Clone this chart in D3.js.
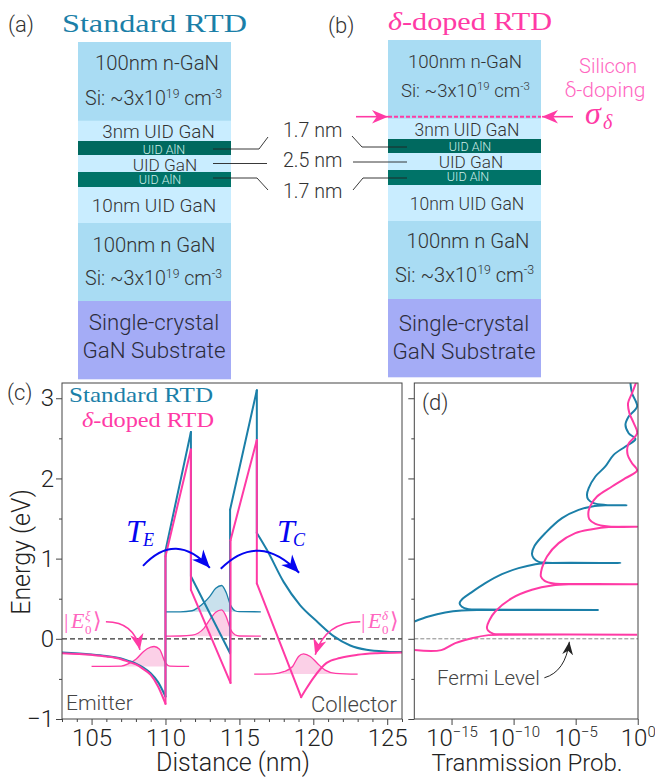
<!DOCTYPE html>
<html>
<head>
<meta charset="utf-8">
<style>
  body { margin: 0; background: #fff; }
  text { font-family: "Roboto", "Liberation Sans", sans-serif; font-weight: 300; fill: #333; }
  .cm { font-family: "Liberation Serif", serif; font-weight: 400; }
  .axis text { font-size: 24px; fill: #222; }
  .axis path, .axis line { stroke: #444; stroke-width: 1; }
</style>
<script src="https://cdn.jsdelivr.net/npm/d3@7"></script>
</head>
<body>
<div id="viz"></div>
<script>
const blue = "#1b7fa8", pink = "#ff3aa5", lightPink = "#ff66bf";

// layer stack, top to bottom (heights in px of the schematic)
const layerNames = ["n", "uid", "aln", "uid", "aln", "uid", "n", "sub"];
const layerHeights = [78.7, 20.3, 14, 17, 15, 36, 78, 78];
const layerColors = {n: "#a9dcf3", uid: "#c9edff", aln: "#00695f", sub: "#a4acf6"};

// panel (c): band edges, distance in nm and energy in eV
// a repeated distance starts a new smooth run of the curve
const stdBandNm = [103, 105, 106, 107, 107.5, 108, 108.5, 109, 109.5, 110, 110, 111.72, 111.72, 114.37, 114.37, 116.18, 116.18, 116.86, 117.99, 119.1, 120.25, 121.4, 122.5, 123.6, 125, 126];
const stdBandE = [-0.17, -0.195, -0.215, -0.245, -0.275, -0.31, -0.36, -0.43, -0.54, -0.72, 1.1, 2.58, 0.78, -0.18, 1.61, 3.1, 1.32, 1.11, 0.71, 0.42, 0.216, 0.03, -0.083, -0.137, -0.16, -0.166];
const dopBandNm = [103, 105, 106, 107, 107.5, 108, 108.5, 109, 109.5, 110, 110, 111.72, 111.72, 114.4, 114.4, 116.18, 116.18, 119.18, 119.18, 119.5, 120, 120.9, 121.8, 123, 124.3, 126];
const dopBandE = [-0.179, -0.2, -0.22, -0.254, -0.287, -0.32, -0.378, -0.45, -0.594, -0.81, 1.03, 2.36, 0.61, -0.55, 1.23, 2.48, 0.69, -0.727, -0.727, -0.63, -0.49, -0.3, -0.24, -0.2, -0.18, -0.17];

// panel (c): wave functions
const emitterNm = [105, 107, 107.5, 108, 108.5, 109, 109.23, 109.6, 110, 110.3, 111.6];
const emitterE = [-0.345, -0.34, -0.31, -0.255, -0.16, -0.105, -0.096, -0.13, -0.3, -0.34, -0.345];
const stdWellNm = [110, 111, 111.8, 112.2, 112.6, 113, 113.4, 113.8, 114.1, 114.4, 114.7, 115, 116.45];
const stdWellE = [0.337, 0.337, 0.35, 0.39, 0.45, 0.53, 0.63, 0.665, 0.58, 0.42, 0.35, 0.338, 0.337];
const dopWellE = [0.033, 0.035, 0.045, 0.07, 0.13, 0.24, 0.33, 0.36, 0.28, 0.12, 0.05, 0.035, 0.033];
const collectorNm = [116, 117.3, 118, 118.6, 119, 119.34, 119.8, 120.3, 120.8, 121.5, 123];
const collectorE = [-0.44, -0.437, -0.41, -0.345, -0.22, -0.187, -0.22, -0.31, -0.39, -0.43, -0.44];

// panel (d): transmission, log10 of T against energy
const stdLogT = [-17.98, -16.85, -15.51, -14.17, -12.55, -3.15, -12.55, -13.63, -14.17, -14.35, -14.11, -13.49, -12.28, -10.94, -9.6, -8.25, -7.31, -1.4, -7.31, -7.98, -8.39, -8.52, -8.31, -7.45, -6.1, -4.76, -3.68, -2.61, -0.91, -2.61, -3.55, -4.0, -4.09, -3.95, -3.41, -2.61, -1.94, -0.99, -0.19, -0.73, -0.99, -0.73, -0.05, -0.46, -0.59];
const stdTE = [0.216, 0.278, 0.328, 0.353, 0.36, 0.36, 0.364, 0.37, 0.399, 0.445, 0.499, 0.569, 0.694, 0.806, 0.881, 0.931, 0.946, 0.946, 0.95, 0.96, 1.006, 1.06, 1.16, 1.318, 1.505, 1.608, 1.65, 1.665, 1.665, 1.669, 1.692, 1.741, 1.796, 1.879, 2.024, 2.149, 2.294, 2.398, 2.49, 2.564, 2.668, 2.772, 2.897, 3.063, 3.188];
const dopLogT = [-17.98, -15.83, -14.7, -13.36, -12.02, -10.67, -0.05, -10.67, -11.61, -12.07, -12.15, -11.96, -11.48, -10.13, -8.52, -6.91, -5.3, -0.05, -5.3, -6.77, -7.5, -7.8, -7.72, -7.31, -6.37, -5.03, -3.68, -2.34, -0.05, -2.34, -3.41, -3.9, -3.98, -3.82, -3.28, -2.07, -0.99, -0.05, -0.46, -0.81, -0.78, -0.05, -0.32, -0.67, -0.78, -0.46, -0.13];
const dopTE = [-0.141, -0.141, -0.054, 0.008, 0.046, 0.052, 0.052, 0.056, 0.062, 0.104, 0.145, 0.229, 0.341, 0.507, 0.611, 0.665, 0.68, 0.68, 0.684, 0.69, 0.723, 0.777, 0.881, 1.027, 1.193, 1.318, 1.367, 1.395, 1.397, 1.401, 1.434, 1.492, 1.567, 1.658, 1.775, 1.899, 2.003, 2.099, 2.19, 2.294, 2.419, 2.564, 2.689, 2.814, 2.938, 3.063, 3.196];

const energyTicks = [-1, 0, 1, 2, 3];
const distanceTicks = [105, 110, 115, 120, 125];
const probTicks = [1e-15, 1e-10, 1e-5, 1];
const probTickExp = ["\u221215", "\u221210", "\u22125", "0"];

const svg = d3.select("#viz").append("svg").attr("width", 655).attr("height", 777).style("display", "block");

// arrow heads
const tunnel = "#0505f0";
const defs = svg.append("defs");
[["headPink", pink, 16], ["headBlue", tunnel, 18], ["headDark", "#222", 13]].forEach(([id, col, s]) => {
  defs.append("marker").attr("id", id).attr("viewBox", "0 0 10 10")
      .attr("refX", 10).attr("refY", 5)
      .attr("markerUnits", "userSpaceOnUse")
      .attr("markerWidth", s).attr("markerHeight", s)
      .attr("orient", "auto")
    .append("path").attr("d", "M10,5 L0,0.8 L3,5 L0,9.2 Z").attr("fill", col);
});

function label(x, y, s, size, opts) {
  opts = opts || {};
  const t = svg.append("text").attr("x", x).attr("y", y).attr("font-size", size)
    .attr("text-anchor", opts.anchor || "start").text(s);
  if (opts.fill) t.style("fill", opts.fill);
  if (opts.cls) t.attr("class", opts.cls);
  if (opts.italic) t.attr("font-style", "italic");
  if (opts.width) t.attr("textLength", opts.width).attr("lengthAdjust", "spacingAndGlyphs");
  return t;
}

// "Si: ~3x10^19 cm^-3" line
function dopingLabel(x, y, size) {
  const t = svg.append("text").attr("x", x).attr("y", y).attr("font-size", size);
  const sup = size * 0.62, up = size * 0.38;
  t.append("tspan").text("Si: ~3x10");
  t.append("tspan").attr("font-size", sup).attr("dy", -up).text("19");
  t.append("tspan").attr("dy", up).text(" cm");
  t.append("tspan").attr("font-size", sup).attr("dy", -up).text("-3");
}

function stack(x0, y0) {
  const w = 153;
  let y = y0;
  layerNames.forEach((n, i) => {
    svg.append("rect").attr("x", x0).attr("y", y).attr("width", w).attr("height", layerHeights[i] + 0.3)
      .attr("fill", n === "aln" && i === 4 ? "#007368" : layerColors[n]);
    y += layerHeights[i];
  });
}

// ---- panels (a) and (b)
label(8, 32, "(a)", 22);
label(62, 32, "Standard RTD", 26, {cls: "cm", fill: blue, width: 185});
stack(78, 42);
label(157, 70, "100nm n-GaN", 20.3, {anchor: "middle"});
dopingLabel(85, 105, 19.7);
label(158.5, 138, "3nm UID GaN", 18.8, {anchor: "middle"});
label(164, 154, "UID AlN", 12.5, {anchor: "middle", fill: "#cfeee8"});
label(165, 171, "UID GaN", 17.2, {anchor: "middle"});
label(160, 184, "UID AlN", 12.5, {anchor: "middle", fill: "#cfeee8"});
label(154, 212, "10nm UID GaN", 19, {anchor: "middle"});
label(154, 252, "100nm n GaN", 20.3, {anchor: "middle"});
dopingLabel(85, 285, 19.7);
label(154, 330, "Single-crystal", 22.2, {anchor: "middle", fill: "#2c2c3c"});
label(154, 358, "GaN Substrate", 22.4, {anchor: "middle", fill: "#2c2c3c"});

label(328, 33, "(b)", 22);
const delta = label(388, 30, "", 26, {cls: "cm", fill: pink, width: 164});
delta.append("tspan").attr("font-style", "italic").text("\u03b4");
delta.append("tspan").text("-doped RTD");
stack(388, 40);
label(465, 68, "100nm n-GaN", 18.7, {anchor: "middle"});
dopingLabel(401, 97, 18.5);
label(467, 136, "3nm UID GaN", 17.5, {anchor: "middle"});
label(470, 151, "UID AlN", 12.5, {anchor: "middle", fill: "#cfeee8"});
label(471, 168, "UID GaN", 17.2, {anchor: "middle"});
label(468, 181, "UID AlN", 12.5, {anchor: "middle", fill: "#cfeee8"});
label(467, 210, "10nm UID GaN", 17.5, {anchor: "middle"});
label(468, 248, "100nm n GaN", 20.3, {anchor: "middle"});
dopingLabel(395, 282, 20);
label(464, 331, "Single-crystal", 22.2, {anchor: "middle", fill: "#2c2c3c"});
label(464, 359, "GaN Substrate", 22.4, {anchor: "middle", fill: "#2c2c3c"});

// thickness labels and their leaders
label(283, 137, "1.7 nm", 19.6);
label(283, 167, "2.5 nm", 19.6);
label(283, 198, "1.7 nm", 19.6);
[[[213, 149], [259, 149], [268, 137]], [[213, 163.5], [267, 163.5]], [[213, 178], [257, 178], [268, 190]],
 [[352, 136], [362, 147], [407, 147]], [[353, 162], [407, 162]], [[353, 190], [363, 178], [407, 178]]].forEach(pts => {
  svg.append("path").attr("d", d3.line()(pts)).attr("fill", "none").attr("stroke", "#222").attr("stroke-width", 0.9);
});

// delta doping plane
svg.append("line").attr("x1", 388).attr("x2", 541).attr("y1", 116.7).attr("y2", 116.7)
  .attr("stroke", pink).attr("stroke-width", 2).attr("stroke-dasharray", "4,2");
svg.append("line").attr("x1", 356).attr("x2", 388).attr("y1", 116.7).attr("y2", 116.7)
  .attr("stroke", pink).attr("stroke-width", 1.6).attr("marker-end", "url(#headPink)");
svg.append("line").attr("x1", 573).attr("x2", 542).attr("y1", 116.7).attr("y2", 116.7)
  .attr("stroke", pink).attr("stroke-width", 1.6).attr("marker-end", "url(#headPink)");
label(608, 73, "Silicon", 20, {anchor: "middle", fill: lightPink});
label(605, 97, "\u03b4-doping", 21, {anchor: "middle", fill: lightPink});
label(585, 124, "\u03c3", 32, {cls: "cm", italic: true, fill: pink});
label(603, 129, "\u03b4", 20, {cls: "cm", italic: true, fill: pink});

// ---- panel (c)
const margin = {top: 383, bottom: 719, left: 62, right: 402};
const x = d3.scaleLinear().domain([103, 126]).range([margin.left, margin.right]);
const y = d3.scaleLinear().domain([-1, 3.19]).range([margin.bottom, margin.top]);

defs.append("clipPath").attr("id", "clipC").append("rect")
  .attr("x", margin.left).attr("y", margin.top).attr("width", margin.right - margin.left).attr("height", margin.bottom - margin.top);

function wave(nm, e, base, fill, stroke) {
  const pts = nm.map((d, i) => [d, e[i]]);
  svg.append("path").datum(pts).attr("fill", fill)
    .attr("d", d3.area().x(d => x(d[0])).y0(y(base)).y1(d => y(d[1])).curve(d3.curveMonotoneX));
  svg.append("path").datum(pts).attr("fill", "none").attr("stroke", stroke).attr("stroke-width", 1.3)
    .attr("d", d3.line().x(d => x(d[0])).y(d => y(d[1])).curve(d3.curveMonotoneX));
}
wave(stdWellNm, stdWellE, stdWellE[0], "#c9e1ed", blue);
wave(stdWellNm, dopWellE, dopWellE[0], "#fbd0e7", pink);
wave(emitterNm, emitterE, emitterE[0], "#fbd0e7", pink);
wave(collectorNm, collectorE, collectorE[0], "#fbd0e7", pink);

svg.append("line").attr("x1", margin.left).attr("x2", margin.right).attr("y1", y(0)).attr("y2", y(0))
  .attr("stroke", "#333").attr("stroke-width", 1.2).attr("stroke-dasharray", "5,3");

function band(nm, e, col) {
  const smooth = d3.line().x(d => x(d[0])).y(d => y(d[1])).curve(d3.curveMonotoneX);
  const g = svg.append("g").attr("clip-path", "url(#clipC)")
    .attr("fill", "none").attr("stroke", col).attr("stroke-width", 2).attr("stroke-linecap", "round");
  let run = [[nm[0], e[0]]];
  for (let i = 1; i < nm.length; i++) {
    if (nm[i] === nm[i - 1]) {
      g.append("path").attr("d", smooth(run));
      g.append("path").attr("d", smooth([[nm[i] - 1e-6, e[i - 1]], [nm[i], e[i]]]));
      run = [[nm[i], e[i]]];
    } else {
      run.push([nm[i], e[i]]);
    }
  }
  g.append("path").attr("d", smooth(run));
}
band(stdBandNm, stdBandE, blue);
band(dopBandNm, dopBandE, pink);

// frame + axes
function frame(l, r) {
  svg.append("rect").attr("x", l).attr("y", margin.top).attr("width", r - l).attr("height", margin.bottom - margin.top)
    .attr("fill", "none").attr("stroke", "#444").attr("stroke-width", 1);
}
frame(margin.left, margin.right);

const minorX = d3.range(103, 127).filter(d => !distanceTicks.includes(d));
svg.append("g").attr("class", "axis").attr("transform", `translate(0,${margin.bottom})`)
  .call(d3.axisBottom(x).tickValues(minorX).tickSize(3).tickFormat(""))
  .call(g => g.select(".domain").remove());
svg.append("g").attr("class", "axis").attr("transform", `translate(0,${margin.bottom})`)
  .call(d3.axisBottom(x).tickValues(distanceTicks).tickSize(6).tickPadding(4))
  .call(g => g.select(".domain").remove());
const minorY = [-0.5, 0.5, 1.5, 2.5];
svg.append("g").attr("class", "axis").attr("transform", `translate(${margin.left},0)`)
  .call(d3.axisLeft(y).tickValues(minorY).tickSize(3).tickFormat(""))
  .call(g => g.select(".domain").remove());
svg.append("g").attr("class", "axis").attr("transform", `translate(${margin.left},0)`)
  .call(d3.axisLeft(y).tickValues(energyTicks).tickSize(6).tickPadding(2).tickFormat(d => d < 0 ? "\u2212" + (-d) : d))
  .call(g => g.select(".domain").remove());

label(233, 771, "Distance (nm)", 25, {anchor: "middle", fill: "#222"});
label(0, 0, "Energy (eV)", 25, {anchor: "middle", fill: "#222"})
  .attr("transform", "translate(30,552) rotate(-90)");
label(7, 400, "(c)", 22);
label(69, 402, "Standard RTD", 21, {cls: "cm", fill: blue, width: 144});
const delta2 = label(82, 427, "", 21, {cls: "cm", fill: pink, width: 132});
delta2.append("tspan").attr("font-style", "italic").text("\u03b4");
delta2.append("tspan").text("-doped RTD");
label(66, 710, "Emitter", 21, {fill: "#444"});
label(311, 712, "Collector", 22, {fill: "#444"});

// annotations anchored to data coordinates
function arc(a, c, b, col, w, head) {
  const p = d3.path();
  p.moveTo(x(a[0]), y(a[1]));
  p.quadraticCurveTo(x(c[0]), y(c[1]), x(b[0]), y(b[1]));
  svg.append("path").attr("d", p.toString()).attr("fill", "none").attr("stroke", col)
    .attr("stroke-width", w).attr("marker-end", `url(#${head})`);
}
arc([108.48, 0.91], [110.7, 1.35], [113.0, 0.885], tunnel, 2, "headBlue");
arc([113.74, 0.873], [116.3, 1.35], [119.04, 0.823], tunnel, 2, "headBlue");
arc([105.97, 0.212], [107.9, 0.21], [108.27, -0.137], pink, 1.6, "headPink");
arc([123.18, 0.212], [120.8, 0.212], [120.13, -0.2], pink, 1.6, "headPink");

label(126, 542, "T", 32, {cls: "cm", italic: true, fill: tunnel});
label(143, 546, "E", 18, {cls: "cm", italic: true, fill: tunnel});
label(277, 542, "T", 32, {cls: "cm", italic: true, fill: tunnel});
label(293, 546, "C", 18, {cls: "cm", italic: true, fill: tunnel});

function ket(xp, sup) {
  label(xp, 628, "|", 22, {cls: "cm", fill: lightPink});
  label(xp + 7, 628, "E", 22, {cls: "cm", italic: true, fill: lightPink});
  label(xp + 21, 620, sup, 13, {cls: "cm", italic: true, fill: lightPink});
  label(xp + 21, 634, "0", 13, {cls: "cm", fill: lightPink});
  label(xp + 29, 628, "\u27e9", 22, {cls: "cm", fill: lightPink});
}
ket(64, "\u03be");
ket(361, "\u03b4");

// ---- panel (d)
const dLeft = 414.3, dRight = 638;
const xd = d3.scaleLog().domain([1e-18, 1.05]).range([dLeft, dRight]);
defs.append("clipPath").attr("id", "clipD").append("rect")
  .attr("x", dLeft).attr("y", margin.top).attr("width", dRight - dLeft).attr("height", margin.bottom - margin.top);

svg.append("line").attr("x1", dLeft).attr("x2", dRight).attr("y1", y(0)).attr("y2", y(0))
  .attr("stroke", "#888").attr("stroke-width", 1).attr("stroke-dasharray", "4,2");

function transmission(logT, e, col) {
  const line = d3.line().x(d => xd(Math.pow(10, d[0]))).y(d => y(d[1])).curve(d3.curveCatmullRom.alpha(0.5));
  svg.append("path").datum(logT.map((d, i) => [d, e[i]]))
    .attr("fill", "none").attr("stroke", col).attr("stroke-width", 2)
    .attr("clip-path", "url(#clipD)").attr("d", line);
}
transmission(stdLogT, stdTE, blue);
transmission(dopLogT, dopTE, pink);

frame(dLeft, dRight);
svg.append("g").attr("class", "axis").attr("transform", `translate(${dLeft},0)`)
  .call(d3.axisLeft(y).tickValues(minorY).tickSize(3).tickFormat(""))
  .call(g => g.select(".domain").remove());
svg.append("g").attr("class", "axis").attr("transform", `translate(${dLeft},0)`)
  .call(d3.axisLeft(y).tickValues(energyTicks).tickSize(6).tickFormat(""))
  .call(g => g.select(".domain").remove());
const xdAxis = svg.append("g").attr("class", "axis").attr("transform", `translate(0,${margin.bottom})`)
  .call(d3.axisBottom(xd).tickValues(probTicks).tickSize(6).tickPadding(4).tickFormat(""))
  .call(g => g.select(".domain").remove());
xdAxis.selectAll(".tick text").each(function(d, i) {
  const t = d3.select(this).attr("text-anchor", "middle");
  t.append("tspan").text("10");
  t.append("tspan").attr("font-size", 15).attr("dy", -9).text(probTickExp[i]);
});

label(527, 771, "Tranmission Prob.", 24, {anchor: "middle", fill: "#222"});
label(422, 410, "(d)", 22);
label(437, 685, "Fermi Level", 20.5, {fill: "#444"});
const fermi = d3.path();
fermi.moveTo(xd(Math.pow(10, -7.52)), y(-0.486));
fermi.quadraticCurveTo(xd(Math.pow(10, -5.83)), y(-0.41), xd(Math.pow(10, -5.51)), y(-0.037));
svg.append("path").attr("d", fermi.toString()).attr("fill", "none").attr("stroke", "#222")
  .attr("stroke-width", 1).attr("marker-end", "url(#headDark)");
</script>
</body>
</html>
